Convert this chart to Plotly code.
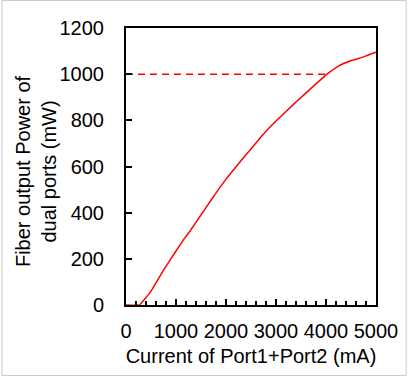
import plotly.graph_objects as go

# Data
current_mA = [0, 263, 494, 757, 1000, 1152, 1298, 1500, 1706, 1990, 2250, 2484,
              2733, 3000, 3340, 3439, 3750, 4032, 4250, 4493, 4750, 5000]
power_mW = [0, 0, 58, 153, 234, 283, 326, 390, 456, 542, 612, 672,
            737, 797, 867, 887, 948, 1002, 1035, 1058, 1075, 1095]

ref_x = [0, 4000]
ref_y = [1000, 1000]

x_ticks = [0, 1000, 2000, 3000, 4000, 5000]
y_ticks = [0, 200, 400, 600, 800, 1000, 1200]

W, H = 410, 376
L, R, T, B = 126, 31, 28, 71
pw, ph = W - L - R, H - T - B

font = "Liberation Sans, Arial, sans-serif"
fs = 20

fig = go.Figure()
fig.add_trace(go.Scatter(x=ref_x, y=ref_y, mode="lines",
                         line=dict(color="#ff0000", width=1.5, dash="7px,5px"),
                         showlegend=False, hoverinfo="skip"))
fig.add_trace(go.Scatter(x=current_mA, y=power_mW, mode="lines",
                         line=dict(color="#ff0000", width=1.5, shape="spline", smoothing=0.3),
                         showlegend=False))

fig.update_layout(
    width=W, height=H,
    margin=dict(l=L, r=R, t=T, b=B, pad=0),
    paper_bgcolor="white", plot_bgcolor="white",
    font=dict(family=font, size=fs, color="#000000"),
    xaxis=dict(range=[0, 5000], tickvals=x_ticks, ticks="inside", ticklen=6,
               tickwidth=1.5, tickcolor="black",
               minor=dict(dtick=200, tick0=0, ticks="inside", ticklen=4,
                          tickwidth=1.5, tickcolor="black", showgrid=False),
               showline=True, linewidth=2, linecolor="black", mirror=True,
               showgrid=False, zeroline=False, ticklabelstandoff=7,
               title=dict(text="Current of Port1+Port2 (mA)", standoff=8,
                          font=dict(size=fs))),
    yaxis=dict(range=[0, 1200], tickvals=y_ticks, ticks="inside", ticklen=6,
               tickwidth=1.5, tickcolor="black",
               showline=True, linewidth=2, linecolor="black", mirror=True,
               showgrid=False, zeroline=False, ticklabelstandoff=16),
    annotations=[dict(text="Fiber output Power of<br>dual ports (mW)",
                      xref="paper", yref="paper",
                      x=(35 - L) / pw, y=((T + ph) - 171) / ph,
                      xanchor="center", yanchor="middle", textangle=-90,
                      showarrow=False, font=dict(size=fs))],
    shapes=[dict(type="rect", xref="paper", yref="paper",
                 x0=(0.5 - L) / pw, x1=(W - 0.5 - L) / pw,
                 y0=((T + ph) - (H - 0.5)) / ph,
                 y1=((T + ph) - 0.5) / ph,
                 line=dict(color="#cccccc", width=1))],
)

fig.write_html("out.html")
